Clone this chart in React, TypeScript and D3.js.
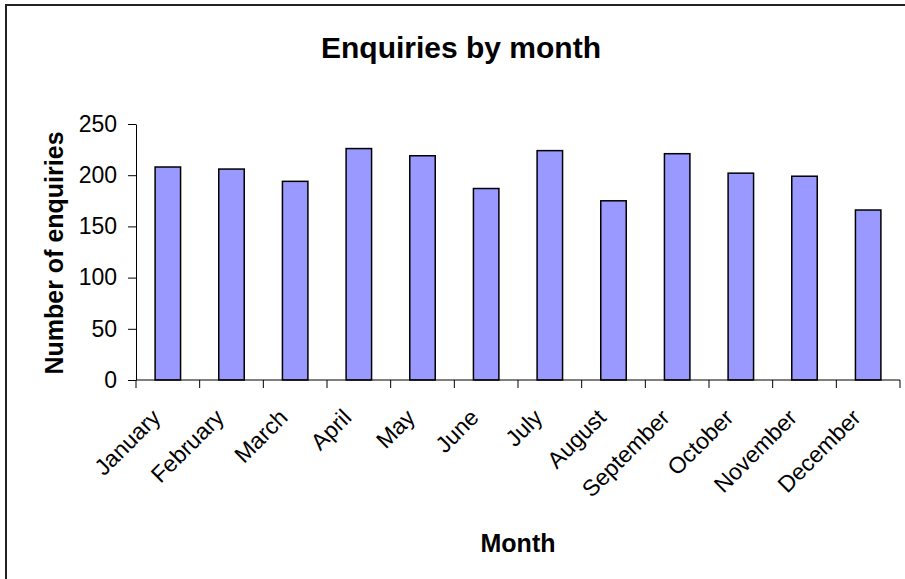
import React, { useRef, useEffect } from "react";
import { select, scaleBand, scaleLinear, axisLeft, range } from "d3";

const months = [
  "January",
  "February",
  "March",
  "April",
  "May",
  "June",
  "July",
  "August",
  "September",
  "October",
  "November",
  "December",
];
const enquiries = [208, 206, 194, 226, 219, 187, 224, 175, 221, 202, 199, 166];
const yTicks = [0, 50, 100, 150, 200, 250];

const width = 905;
const height = 579;
const marginLeft = 136;
const plotRight = 900;
const plotTop = 124;
const plotBottom = 380;
const font = "'Liberation Sans', Arial, sans-serif";

const App: React.FC = () => {
  const gy = useRef<SVGGElement>(null);

  // excel style: gap width 150% -> bar is 40% of the category
  const x = scaleBand()
    .domain(months)
    .range([marginLeft, plotRight])
    .paddingInner(0.6)
    .paddingOuter(0.3);
  const step = x.step();

  const y = scaleLinear().domain([0, 250]).range([plotBottom, plotTop]);

  useEffect(() => {
    if (!gy.current) return;
    const g = select(gy.current);
    g.call(axisLeft(y).tickValues(yTicks).tickSize(8).tickSizeOuter(0).tickPadding(11));
    g.select(".domain").attr("stroke", "#000");
    g.selectAll(".tick line").attr("stroke", "#000");
    g.selectAll(".tick text")
      .attr("font-family", font)
      .attr("font-size", 23)
      .attr("fill", "#000");
  }, [y]);

  const boundaries = range(months.length + 1).map((i) => marginLeft + i * step);

  return (
    <div style={{ position: "absolute", left: 0, top: 0 }}>
      <svg width={width} height={height} style={{ display: "block" }}>
        <rect x={0} y={0} width={width} height={height} fill="#fff" />
        <rect
          x={6}
          y={5}
          width={width + 20}
          height={height + 20}
          fill="#fff"
          stroke="#222"
          strokeWidth={2}
        />
        <text
          x={461}
          y={58}
          textAnchor="middle"
          fontFamily={font}
          fontWeight="bold"
          fontSize={30}
        >
          Enquiries by month
        </text>

        <g>
          {enquiries.map((d, i) => (
            <rect
              key={months[i]}
              x={x(months[i])}
              y={y(d)}
              width={x.bandwidth()}
              height={plotBottom - y(d)}
              fill="#9999FF"
              stroke="#000"
              strokeWidth={1.5}
            />
          ))}
        </g>

        <g transform={`translate(${marginLeft},0)`} ref={gy} />

        <line
          x1={marginLeft}
          x2={plotRight}
          y1={plotBottom}
          y2={plotBottom}
          stroke="#000"
        />
        {boundaries.map((bx, i) => (
          <line
            key={i}
            x1={bx}
            x2={bx}
            y1={plotBottom}
            y2={plotBottom + 8}
            stroke="#000"
          />
        ))}
        {months.map((m) => {
          const cx = (x(m) as number) + x.bandwidth() / 2;
          return (
            <text
              key={m}
              transform={`translate(${cx - 6},${plotBottom + 39}) rotate(-45)`}
              textAnchor="end"
              fontFamily={font}
              fontSize={23}
            >
              {m}
            </text>
          );
        })}

        <text
          transform={`translate(63,${(plotTop + plotBottom) / 2 + 1}) rotate(-90)`}
          textAnchor="middle"
          fontFamily={font}
          fontWeight="bold"
          fontSize={25}
        >
          Number of enquiries
        </text>
        <text
          x={(marginLeft + plotRight) / 2}
          y={552}
          textAnchor="middle"
          fontFamily={font}
          fontWeight="bold"
          fontSize={25}
        >
          Month
        </text>
      </svg>
    </div>
  );
};

export default App;
